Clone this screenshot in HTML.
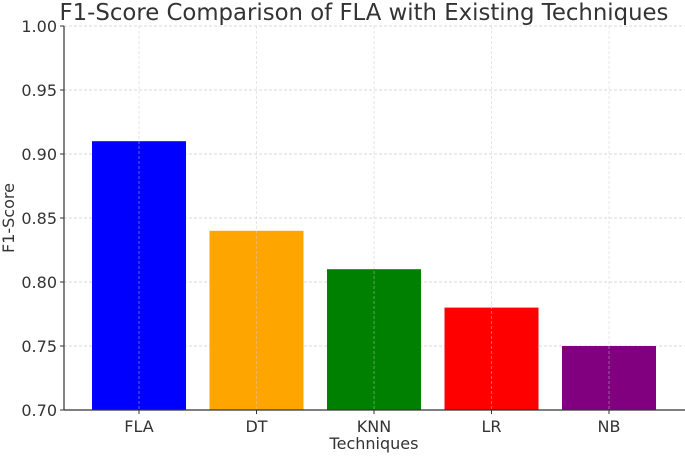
<!DOCTYPE html>
<html><head><meta charset="utf-8"><style>
body{margin:0;background:#fff;}
svg text{font-family:"DejaVu Sans","Liberation Sans",sans-serif;fill:#333;}
</style></head><body>
<svg id="chart" width="685" height="455">
<text x="364" y="20" text-anchor="middle" font-size="22.8">F1-Score Comparison of FLA with Existing Techniques</text>
<g id="grid"></g><g id="bars"></g><g id="axes"></g>
<text x="374" y="449" text-anchor="middle" font-size="16">Techniques</text>
<text transform="translate(14,218) rotate(-90)" text-anchor="middle" font-size="16">F1-Score</text>
</svg>
<script>
const categories=["FLA","DT","KNN","LR","NB"];
const values=[0.91,0.84,0.81,0.78,0.75];
const colors=["#0000ff","#ffa500","#008000","#ff0000","#800080"];
const yTicks=[0.70,0.75,0.80,0.85,0.90,0.95,1.00];
const NS="http://www.w3.org/2000/svg";
const leftX=64,bottomY=410,topY=26,c0=139,step=117.5,bw=94;
const yS=v=>bottomY-(v-0.70)/0.30*(bottomY-topY);
const xS=i=>c0+i*step;
function mk(t,a,p){const e=document.createElementNS(NS,t);for(const k in a)e.setAttribute(k,a[k]);document.getElementById(p).appendChild(e);return e;}
yTicks.forEach(v=>{
 const g=mk("line",{x1:leftX,x2:685,y1:yS(v),y2:yS(v),stroke:"#ccc","stroke-dasharray":"3,2","stroke-width":0.8},"grid");
 
 
 const t=mk("line",{x1:leftX-4,x2:leftX,y1:yS(v),y2:yS(v),stroke:"#333"},"axes");
 
 
 const l=mk("text",{x:leftX-7,y:yS(v)+6,"text-anchor":"end","font-size":16},"axes");
 l.textContent=v.toFixed(2);
 
 
});
categories.forEach((c,i)=>{
 const b=mk("rect",{x:xS(i)-bw/2,y:yS(values[i]),width:bw,height:bottomY-yS(values[i]),fill:colors[i]},"bars");
 
 
 const g=mk("line",{x1:xS(i),x2:xS(i),y1:topY,y2:bottomY,stroke:"#ccc","stroke-dasharray":"3,2","stroke-width":0.8,opacity:0.6},"axes");
 
 
 const t=mk("line",{x1:xS(i),x2:xS(i),y1:bottomY,y2:bottomY+4,stroke:"#333"},"axes");
 
 
 const l=mk("text",{x:xS(i),y:bottomY+22,"text-anchor":"middle","font-size":16},"axes");
 l.textContent=c;
 
 
});
const ya=mk("line",{x1:leftX,x2:leftX,y1:topY,y2:bottomY,stroke:"#333","stroke-width":1.2},"axes");


const xa=mk("line",{x1:leftX,x2:685,y1:bottomY,y2:bottomY,stroke:"#333","stroke-width":1.2},"axes");


</script>
</body></html>
